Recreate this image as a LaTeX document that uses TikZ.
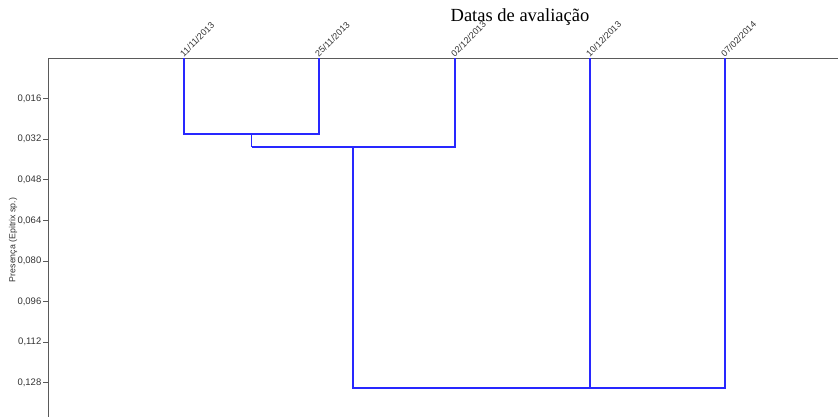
\documentclass[tikz,border=0pt]{standalone}
\usepackage{fontspec}
\setmainfont{Liberation Serif}
\newfontfamily\labelfont{Liberation Sans}
\definecolor{linkblue}{RGB}{40,40,255}
\definecolor{axisgray}{RGB}{90,90,90}
\begin{document}
\begin{tikzpicture}[x=1pt,y=-1pt,
  link/.style={draw=linkblue,line width=1.6pt},
  axisline/.style={draw=axisgray,line width=0.9pt},
  ticklabel/.style={anchor=east,inner sep=0pt,font=\labelfont\fontsize{9.5}{11}\selectfont,text=black!80},
  leaflabel/.style={anchor=south west,rotate=45,inner sep=0.3pt,font=\labelfont\fontsize{9}{10}\selectfont,text=black!80}]
\useasboundingbox (0,0) rectangle (838,417);
% axes
\coordinate (orig) at (48,58);
\coordinate (xend) at (838,58);
\coordinate (yend) at (48,417);
\draw[axisline] (xend) -- (orig) -- (yend);
% title
\node[font=\fontsize{18.5}{22}\selectfont] (title) at (520,17) {Datas de avaliação};
% y ticks
\foreach \v/\y in {{0,016}/98.6,{0,032}/139.2,{0,048}/179.8,{0,064}/220.4,{0,080}/261,{0,096}/301.6,{0,112}/342.2,{0,128}/382.8}{
  \draw[axisline] (43,\y) -- (48,\y);
  \node[ticklabel] at (41.5,\y) {\v};
}
\node[rotate=90,font=\labelfont\fontsize{8.8}{10}\selectfont,text=black!80] (ylab) at (13,240) {Presença (Epitrix sp.)};
% leaves
\coordinate (a) at (184,58);
\coordinate (b) at (319,58);
\coordinate (c) at (455,58);
\coordinate (d) at (590,58);
\coordinate (e) at (725,58);
\node[leaflabel] (la) at (a) {11/11/2013};
\node[leaflabel] (lb) at (b) {25/11/2013};
\node[leaflabel] (lc) at (c) {02/12/2013};
\node[leaflabel] (ld) at (d) {10/12/2013};
\node[leaflabel] (le) at (e) {07/02/2014};
% merges
\coordinate (ab) at (251.5,134);
\coordinate (abc) at (353,147);
\coordinate (de) at (657.5,388);
\draw[link] (a) |- (ab) -| (b);
\draw[link] (ab) -- (ab |- abc);
\draw[link] (ab |- abc) -- (c |- abc) -- (c);
\draw[link] (d) |- (de) -| (e);
\draw[link] (abc) |- (de);
\end{tikzpicture}
\end{document}
